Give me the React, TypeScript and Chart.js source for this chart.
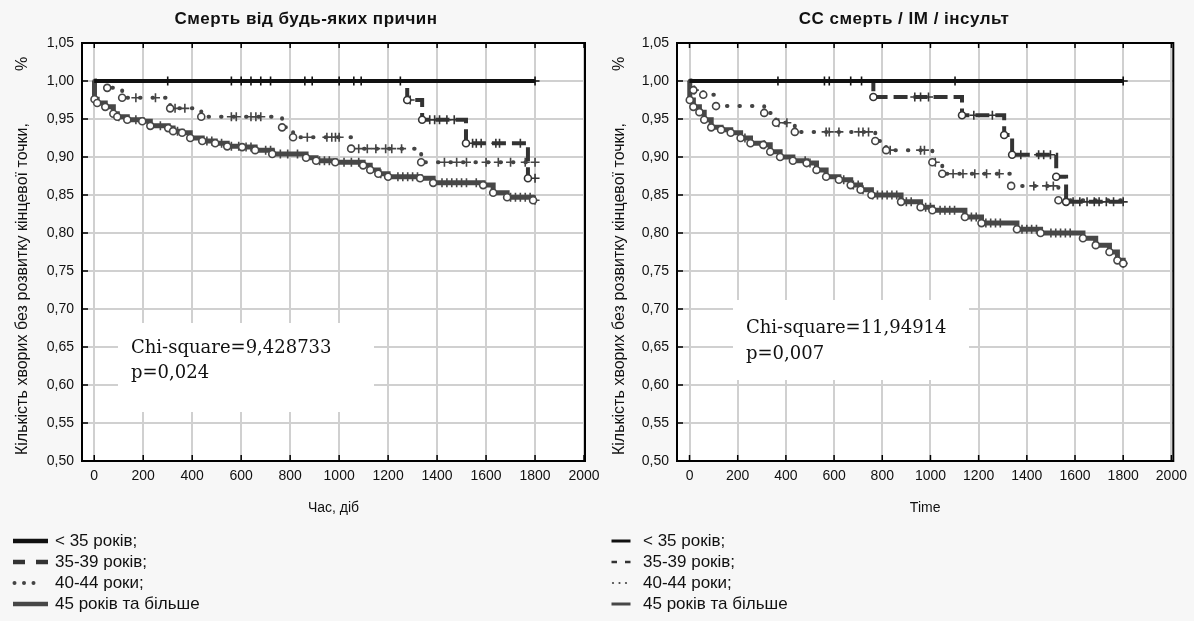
import React, { useEffect, useRef } from "react";
import { Chart, registerables } from "chart.js";

Chart.register(...registerables);

// ---------- shared ----------
const X_TICKS = [0, 200, 400, 600, 800, 1000, 1200, 1400, 1600, 1800, 2000];
const Y_TICKS = [0.5, 0.55, 0.6, 0.65, 0.7, 0.75, 0.8, 0.85, 0.9, 0.95, 1.0, 1.05];
const Y_TITLE = "Кількість хворих без розвитку кінцевої точки, %";
const LEGEND_LABELS = ["< 35 років;", "35-39 років;", "40-44 роки;", "45 років та більше"];

// ---------- left panel: all-cause death ----------
const L_TITLE = "Смерть від будь-яких причин";
const L_XTITLE = "Час, діб";
const L_STAT = ["Chi-square=9,428733", "p=0,024"];

const L_A_T = [0, 1800];
const L_A_S = [1, 1];
const L_A_C = [300, 560, 600, 640, 680, 720, 860, 890, 1000, 1060, 1090, 1250, 1800];

const L_B_T = [0, 1278, 1339, 1518, 1771, 1800];
const L_B_S = [1, 0.975, 0.949, 0.918, 0.872, 0.872];
const L_B_C = [1290, 1370, 1390, 1410, 1440, 1470, 1545, 1560, 1580, 1640, 1655, 1740, 1800];

const L_C_T = [0, 53, 114, 310, 437, 767, 812, 1049, 1335, 1810];
const L_C_S = [1, 0.991, 0.978, 0.964, 0.953, 0.939, 0.926, 0.911, 0.893, 0.893];
const L_C_C = [170, 250, 330, 370, 560, 580, 640, 660, 680, 870, 950, 970, 985, 1000,
  1080, 1115, 1150, 1190, 1215, 1255, 1430, 1480, 1520, 1600, 1650, 1700, 1760, 1800];

const L_D_T = [0, 1, 12, 45, 78, 94, 135, 196, 229, 302, 322, 359, 392, 441, 494, 543, 604, 657,
  727, 865, 906, 984, 1098, 1127, 1160, 1200, 1331, 1384, 1588, 1629, 1686, 1792, 1800];
const L_D_S = [1, 0.976, 0.971, 0.966, 0.957, 0.953, 0.949, 0.947, 0.941, 0.938, 0.934, 0.932, 0.925,
  0.921, 0.918, 0.914, 0.913, 0.909, 0.904, 0.899, 0.895, 0.893, 0.889, 0.883, 0.878, 0.874, 0.872,
  0.866, 0.863, 0.853, 0.847, 0.843, 0.843];
const L_D_C = [100, 170, 270, 340, 460, 480, 520, 560, 590, 620, 640, 700, 720, 760, 790, 830, 920,
  940, 960, 1020, 1050, 1080, 1170, 1240, 1260, 1280, 1300, 1320, 1420, 1440, 1460, 1480, 1500, 1520,
  1560, 1700, 1720, 1740, 1760, 1780, 1800];

// ---------- right panel: CV death / MI / stroke ----------
const R_TITLE = "СС смерть / ІМ / інсульт";
const R_XTITLE = "Time";
const R_STAT = ["Chi-square=11,94914", "p=0,007"];

const R_A_T = [0, 1800];
const R_A_S = [1, 1];
const R_A_C = [367, 560, 580, 669, 714, 1102, 1800];

const R_B_T = [0, 763, 1131, 1306, 1339, 1522, 1563, 1800];
const R_B_S = [1, 0.979, 0.955, 0.929, 0.903, 0.874, 0.841, 0.841];
const R_B_C = [935, 959, 992, 1180, 1257, 1375, 1449, 1470, 1498, 1592, 1620, 1650, 1680, 1700, 1730, 1760, 1800];

const R_C_T = [0, 16, 57, 110, 310, 359, 437, 771, 816, 1008, 1049, 1335, 1531, 1800];
const R_C_S = [1, 0.988, 0.982, 0.967, 0.958, 0.945, 0.933, 0.921, 0.909, 0.893, 0.878, 0.862, 0.843, 0.843];
const R_C_C = [20, 370, 404, 567, 580, 620, 702, 720, 743, 833, 959, 975, 1020, 1094, 1135, 1184,
  1233, 1286, 1429, 1482, 1510];

const R_D_T = [0, 1, 16, 41, 61, 90, 131, 171, 212, 253, 306, 335, 376, 429, 486, 527, 567, 620, 669,
  710, 755, 878, 959, 1008, 1143, 1212, 1359, 1457, 1633, 1686, 1743, 1776, 1800];
const R_D_S = [1, 0.975, 0.966, 0.959, 0.949, 0.939, 0.936, 0.932, 0.925, 0.918, 0.916, 0.907, 0.9,
  0.895, 0.892, 0.883, 0.874, 0.87, 0.863, 0.857, 0.85, 0.841, 0.834, 0.83, 0.821, 0.813, 0.805, 0.8,
  0.793, 0.784, 0.775, 0.764, 0.76];
const R_D_C = [230, 310, 480, 500, 640, 680, 700, 720, 760, 780, 800, 820, 840, 860, 900, 920, 980,
  1000, 1040, 1060, 1080, 1100, 1170, 1190, 1230, 1250, 1270, 1290, 1380, 1400, 1420, 1440, 1500,
  1520, 1540, 1560, 1580, 1800];

// ---------- styling ----------
const FONT = "'Liberation Sans', Arial, sans-serif";
const STYLES = [
  { color: "#111111", width: 4, dash: [] as number[], cap: "butt" },
  { color: "#333333", width: 4, dash: [14, 6], cap: "butt" },
  { color: "#444444", width: 4, dash: [0.5, 12], cap: "round" },
  { color: "#474747", width: 5, dash: [] as number[], cap: "butt" },
];

type Series = { t: number[]; s: number[]; c: number[] };
type Panel = {
  title: string;
  xTitle: string;
  stat: string[];
  series: Series[];
  width: number;
  left: number;
  plotLeft: number;
  padRight: number;
  xMin: number;
  xMax: number;
  titleX: number;
  yTitleX: number;
  box: [number, number, number, number];
  textX: number;
  textY: number[];
  legendSmall: boolean;
};

const LEGEND_Y = [541, 562, 583, 604];

const stepValue = (t: number[], s: number[], x: number) => {
  let v = s[0];
  for (let i = 0; i < t.length; i++) if (t[i] <= x) v = s[i];
  return v;
};

const PANELS: Panel[] = [
  {
    title: L_TITLE, xTitle: L_XTITLE, stat: L_STAT,
    series: [
      { t: L_A_T, s: L_A_S, c: L_A_C },
      { t: L_B_T, s: L_B_S, c: L_B_C },
      { t: L_C_T, s: L_C_S, c: L_C_C },
      { t: L_D_T, s: L_D_S, c: L_D_C },
    ],
    width: 612, left: 0, plotLeft: 82, padRight: 27, xMin: -50, xMax: 2004,
    titleX: 306, yTitleX: 23,
    box: [118, 323, 256, 89], textX: 131, textY: [348, 373], legendSmall: false,
  },
  {
    title: R_TITLE, xTitle: R_XTITLE, stat: R_STAT,
    series: [
      { t: R_A_T, s: R_A_S, c: R_A_C },
      { t: R_B_T, s: R_B_S, c: R_B_C },
      { t: R_C_T, s: R_C_S, c: R_C_C },
      { t: R_D_T, s: R_D_S, c: R_D_C },
    ],
    width: 597, left: 597, plotLeft: 80, padRight: 12, xMin: -52, xMax: 2008,
    titleX: 307, yTitleX: 23,
    box: [136, 300, 236, 80], textX: 149, textY: [328, 354], legendSmall: true,
  },
];

function buildConfig(p: Panel): any {
  const datasets: any[] = [];
  p.series.forEach((ser, i) => {
    const st = STYLES[i];
    datasets.push({
      type: "line",
      data: ser.t.map((x, k) => ({ x, y: ser.s[k] })),
      stepped: true,
      borderColor: st.color,
      borderWidth: st.width,
      borderDash: st.dash,
      borderCapStyle: st.cap,
      fill: false,
      pointStyle: "circle",
      pointRadius: (ctx: any) => {
        const k = ctx.dataIndex;
        if (i === 0 || k === 0) return 0;
        return ser.s[k] !== ser.s[k - 1] ? 3.5 : 0;
      },
      pointBackgroundColor: "#ffffff",
      pointBorderColor: st.color,
      pointBorderWidth: 1.6,
    });
    datasets.push({
      type: "line",
      showLine: false,
      data: ser.c.map((x) => ({ x, y: stepValue(ser.t, ser.s, x) })),
      pointStyle: "cross",
      pointRadius: 4.5,
      pointBorderWidth: 1.6,
      pointBorderColor: st.color,
      pointBackgroundColor: st.color,
    });
  });

  const decor = {
    id: "decor",
    beforeDraw(chart: any) {
      const { ctx, chartArea: a } = chart;
      ctx.save();
      ctx.fillStyle = "#ffffff";
      ctx.fillRect(a.left, a.top, a.right - a.left, a.bottom - a.top);
      ctx.restore();
    },
    beforeDatasetsDraw(chart: any) {
      const { ctx } = chart;
      const [bx, by, bw, bh] = p.box;
      ctx.save();
      ctx.fillStyle = "#ffffff";
      ctx.fillRect(bx, by, bw, bh);
      ctx.fillStyle = "#111111";
      ctx.font = "18px 'DejaVu Serif', serif";
      ctx.textBaseline = "middle";
      ctx.textAlign = "left";
      p.stat.forEach((line, k) => ctx.fillText(line, p.textX, p.textY[k]));
      ctx.restore();
    },
    afterDraw(chart: any) {
      const { ctx, chartArea: a, scales } = chart;
      ctx.save();
      ctx.strokeStyle = "#000000";
      ctx.lineWidth = 2;
      ctx.strokeRect(a.left, a.top, a.right - a.left, a.bottom - a.top);
      ctx.lineWidth = 1.5;
      ctx.beginPath();
      X_TICKS.forEach((v) => {
        const x = scales.x.getPixelForValue(v);
        ctx.moveTo(x, a.bottom);
        ctx.lineTo(x, a.bottom - 6);
        ctx.moveTo(x, a.top);
        ctx.lineTo(x, a.top + 5);
      });
      Y_TICKS.forEach((v) => {
        const y = scales.y.getPixelForValue(v);
        ctx.moveTo(a.left, y);
        ctx.lineTo(a.left + 6, y);
      });
      ctx.stroke();

      // chart title
      ctx.fillStyle = "#111111";
      ctx.font = `bold 17px ${FONT}`;
      try { (ctx as any).letterSpacing = "0.5px"; } catch (e) {}
      ctx.textAlign = "center";
      ctx.textBaseline = "middle";
      ctx.fillText(p.title, p.titleX, 19);
      try { (ctx as any).letterSpacing = "0px"; } catch (e) {}

      // y axis title, the "%" set apart near the top
      ctx.save();
      ctx.font = `16px ${FONT}`;
      ctx.translate(p.yTitleX, 0);
      ctx.rotate(-Math.PI / 2);
      ctx.textAlign = "left";
      ctx.textBaseline = "middle";
      const words = Y_TITLE.split(" ");
      const pct = words.pop() as string;
      const widths = words.map((w) => ctx.measureText(w).width);
      const yBottom = 455;
      const yTop = 123;
      const gap = (yBottom - yTop - widths.reduce((s, w) => s + w, 0)) / (words.length - 1);
      let yy = yBottom;
      words.forEach((w, k) => {
        ctx.fillText(w, -yy, 0);
        yy -= widths[k] + gap;
      });
      ctx.fillText(pct, -71, 0);
      ctx.restore();

      // legend
      ctx.font = `17px ${FONT}`;
      ctx.textBaseline = "middle";
      ctx.textAlign = "left";
      LEGEND_LABELS.forEach((label, i) => {
        const y = LEGEND_Y[i];
        const st = STYLES[i];
        const x0 = p.legendSmall ? 14.5 : 13;
        const x1 = p.legendSmall ? 33.5 : 48;
        const tx = p.legendSmall ? 46 : 55;
        ctx.strokeStyle = st.color;
        ctx.fillStyle = st.color;
        ctx.lineWidth = p.legendSmall ? 3 : 4.5;
        ctx.setLineDash([]);
        if (i === 0 || i === 3) {
          ctx.beginPath();
          ctx.moveTo(x0, y);
          ctx.lineTo(x1, y);
          ctx.stroke();
        } else if (i === 1) {
          const seg = p.legendSmall ? 5.5 : 12;
          ctx.lineWidth = p.legendSmall ? 2.5 : 4.5;
          ctx.beginPath();
          ctx.moveTo(x0, y);
          ctx.lineTo(x0 + seg, y);
          ctx.moveTo(x1 - seg, y);
          ctx.lineTo(x1, y);
          ctx.stroke();
        } else {
          const step = p.legendSmall ? 6.5 : 9.5;
          for (let k = 0; k < 3; k++) {
            ctx.beginPath();
            ctx.arc(x0 + 1.5 + k * step, y, p.legendSmall ? 1.1 : 2, 0, Math.PI * 2);
            ctx.fill();
          }
        }
        ctx.fillStyle = "#111111";
        ctx.fillText(label, tx, y);
      });
      ctx.restore();
    },
  };

  return {
    type: "line",
    data: { datasets },
    plugins: [decor],
    options: {
      animation: false,
      responsive: false,
      devicePixelRatio: 1,
      layout: { padding: { top: 43, left: 0, right: p.padRight, bottom: 100 } },
      plugins: {
        legend: { display: false },
        tooltip: { enabled: false },
        title: { display: false },
      },
      scales: {
        x: {
          type: "linear",
          min: p.xMin,
          max: p.xMax,
          afterBuildTicks: (s: any) => {
            s.ticks = X_TICKS.map((v) => ({ value: v }));
          },
          afterFit: (s: any) => {
            s.height = 60;
          },
          grid: { color: "#d0d0d0", lineWidth: 2, drawTicks: false },
          border: { color: "#000000", width: 2 },
          ticks: {
            padding: 7,
            color: "#111111",
            font: { size: 14, family: FONT },
            autoSkip: false,
            maxRotation: 0,
            callback: (v: any) => String(v),
          },
          title: {
            display: true,
            text: p.xTitle,
            color: "#111111",
            font: { size: 14, family: FONT },
            padding: { top: 4, bottom: 4 },
          },
        },
        y: {
          type: "linear",
          min: 0.5,
          max: 1.05,
          afterBuildTicks: (s: any) => {
            s.ticks = Y_TICKS.map((v) => ({ value: v }));
          },
          afterFit: (s: any) => {
            s.width = p.plotLeft;
          },
          grid: { color: "#d0d0d0", lineWidth: 2, drawTicks: false },
          border: { color: "#000000", width: 2 },
          ticks: {
            padding: 8,
            color: "#111111",
            font: { size: 14, family: FONT },
            callback: (v: any) => Number(v).toFixed(2).replace(".", ","),
          },
          title: { display: false },
        },
      },
    },
  };
}

function PanelChart({ p }: { p: Panel }) {
  const ref = useRef<HTMLCanvasElement | null>(null);
  useEffect(() => {
    if (!ref.current) return;
    const chart = new Chart(ref.current, buildConfig(p));
    return () => chart.destroy();
  }, [p]);
  return (
    <canvas
      ref={ref}
      width={p.width}
      height={621}
      style={{ position: "absolute", left: p.left, top: 0, width: p.width, height: 621 }}
    />
  );
}

export default function App() {
  return (
    <div
      style={{
        position: "fixed",
        left: 0,
        top: 0,
        width: 1194,
        height: 621,
        background: "#f7f7f7",
        overflow: "hidden",
      }}
    >
      {PANELS.map((p, i) => (
        <PanelChart key={i} p={p} />
      ))}
    </div>
  );
}
